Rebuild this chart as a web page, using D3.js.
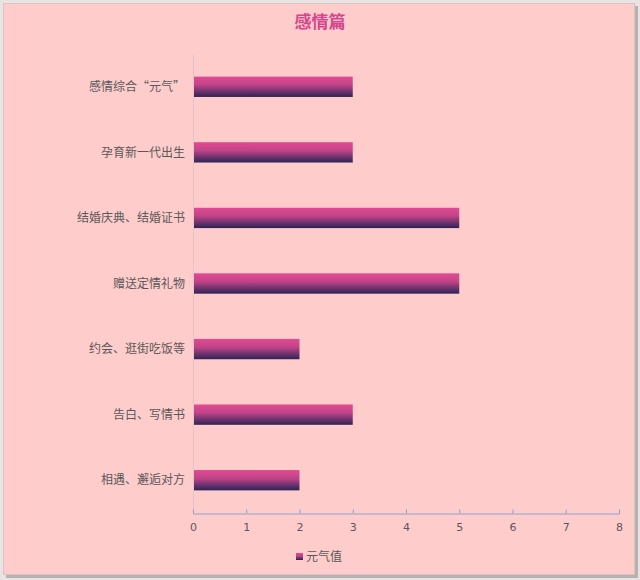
<!DOCTYPE html>
<html>
<head>
<meta charset="utf-8">
<script src="https://cdn.jsdelivr.net/npm/d3@7"></script>
<style>
  body { margin: 0; background: #e9e3e3; }
  svg { display: block; font-family: "Noto Sans CJK SC", "Noto Sans", sans-serif; }
</style>
</head>
<body>
<svg id="chart" width="640" height="580"></svg>
<script>
/* chart data */
var categories = ["相遇、邂逅对方", "告白、写情书", "约会、逛街吃饭等", "赠送定情礼物",
                  "结婚庆典、结婚证书", "孕育新一代出生", "感情综合“元气”"];
var values = [2, 3, 2, 5, 5, 3, 3];
var xTicks = [0, 1, 2, 3, 4, 5, 6, 7, 8];
var seriesName = "元气值";
var chartTitle = "感情篇";

var svg = d3.select("svg#chart");

/* frame with a little shadow */
svg.append("rect")
  .attr("x", 6).attr("y", 6)
  .attr("width", 632).attr("height", 572)
  .attr("fill", "#b9b0b0");
svg.append("rect")
  .attr("x", 3.5).attr("y", 3.5)
  .attr("width", 631).attr("height", 571)
  .attr("fill", "#ffcccc")
  .attr("stroke", "#d8c4c4");

var defs = svg.append("defs");
var grad = defs.append("linearGradient")
  .attr("id", "barGrad")
  .attr("x1", 0).attr("y1", 0).attr("x2", 0).attr("y2", 1);
grad.append("stop").attr("offset", "0%").attr("stop-color", "#e24a92");
grad.append("stop").attr("offset", "40%").attr("stop-color", "#c24488");
grad.append("stop").attr("offset", "100%").attr("stop-color", "#2b2456");

var x = d3.scaleLinear().domain([0, 8]).range([193, 619]);
var y = d3.scaleBand()
  .domain(categories.slice().reverse())
  .range([54, 513])
  .paddingInner(0.69)
  .paddingOuter(0.345);

/* title */
svg.append("text")
  .attr("x", 320).attr("y", 28)
  .attr("text-anchor", "middle")
  .attr("fill", "#d8458d")
  .style("font-size", "17px")
  .style("font-weight", "bold")
  .text(chartTitle);

/* faint category axis line */
svg.append("line")
  .attr("x1", 193.5).attr("x2", 193.5)
  .attr("y1", 54).attr("y2", 513)
  .attr("stroke", "#e4c4c8");

/* bars */
svg.selectAll(".bar")
  .data(categories)
  .enter()
  .append("rect")
  .attr("class", "bar")
  .attr("x", x(0) + 1)
  .attr("y", d => y(d))
  .attr("width", (d, i) => x(values[i]) - x(0) - 1)
  .attr("height", y.bandwidth())
  .attr("fill", "url(#barGrad)");

/* category labels */
svg.selectAll(".cat")
  .data(categories)
  .enter()
  .append("text")
  .attr("class", "cat")
  .attr("x", 185)
  .attr("y", d => y(d) + y.bandwidth() / 2)
  .attr("dy", "0.35em")
  .attr("text-anchor", "end")
  .attr("fill", "#595959")
  .style("font-size", "12px")
  .text(d => d);

/* value axis */
var xAxis = d3.axisBottom(x)
  .tickValues(xTicks)
  .tickSize(-4)
  .tickPadding(10)
  .tickFormat(d3.format("d"));

var gx = svg.append("g")
  .attr("transform", "translate(0,513.5)")
  .call(xAxis);
gx.select(".domain").attr("stroke", "#8ea2cc");
gx.selectAll(".tick line").attr("stroke", "#8ea2cc");
gx.selectAll(".tick text")
  .attr("fill", "#595959")
  .style("font-size", "11px")
  .style("font-family", "\"DejaVu Sans\", sans-serif");

/* legend */
var legend = svg.append("g").attr("transform", "translate(296,553)");
legend.append("rect")
  .attr("width", 7).attr("height", 7)
  .attr("fill", "url(#barGrad)");
legend.append("text")
  .attr("x", 10).attr("y", 4)
  .attr("dy", "0.35em")
  .attr("fill", "#595959")
  .style("font-size", "12px")
  .text(seriesName);
</script>
</body>
</html>
